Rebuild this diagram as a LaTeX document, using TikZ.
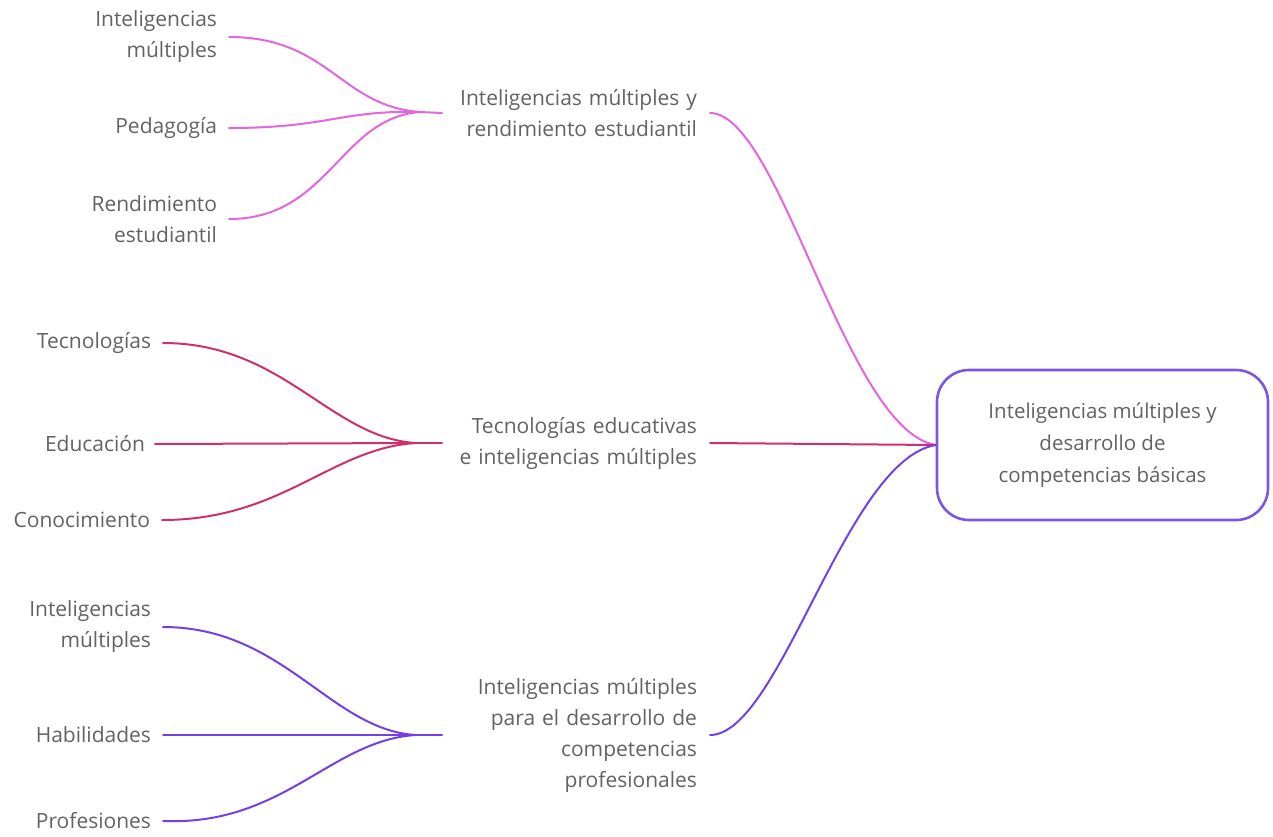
\documentclass[tikz,border=0pt]{standalone}
\usepackage{fontspec}
\setmainfont{Open Sans}
\definecolor{txt}{HTML}{626262}
\definecolor{cpink}{HTML}{E266DC}
\definecolor{ccrim}{HTML}{CF2F6E}
\definecolor{cviol}{HTML}{7440E6}
\definecolor{cbox}{HTML}{7E55E0}
\begin{document}
\begin{tikzpicture}[x=1pt,y=-1pt,
  lbl/.style={text=txt,font=\fontsize{21}{31}\selectfont,inner sep=0pt,outer xsep=12pt,outer ysep=0pt,align=right,anchor=east},
  mid/.style={text=txt,font=\fontsize{21}{31}\selectfont,inner sep=0pt,outer sep=0pt,align=right,anchor=east,text width=255pt},
  conn/.style={line width=2pt,line cap=round}]
\useasboundingbox (0,0) rectangle (1273,836);
% main
\node[draw=cbox,line width=2.6pt,rounded corners=32pt,minimum width=331pt,minimum height=150pt,inner sep=0pt,
  text=txt,font=\fontsize{20.5}{32}\selectfont,align=center] (main) at (1102.5,445)
  {Inteligencias múltiples y\\desarrollo de\\competencias básicas};
% top group
\node[lbl] (a1) at (229,37) {Inteligencias\\múltiples};
\node[lbl] (a2) at (229,128) {Pedagogía};
\node[lbl] (a3) at (229,219) {Rendimiento\\estudiantil};
\coordinate (ja) at (420,112);
\node[mid] (ma) at (697,113) {Inteligencias múltiples y\\rendimiento estudiantil};
% middle group
\node[lbl] (b1) at (163,343) {Tecnologías};
\node[lbl,outer xsep=10pt] (b2) at (155,444) {Educación};
\node[lbl] (b3) at (162,520) {Conocimiento};
\coordinate (jb) at (415,443);
\node[mid] (mb) at (697,443) {Tecnologías educativas\\e inteligencias múltiples};
% bottom group
\node[lbl] (c1) at (163,627) {Inteligencias\\múltiples};
\node[lbl] (c2) at (163,735) {Habilidades};
\node[lbl] (c3) at (163,821) {Profesiones};
\coordinate (jc) at (415,735);
\node[mid] (mc) at (697,735) {Inteligencias múltiples\\para el desarrollo de\\competencias\\profesionales};
% connectors top
\begin{scope}[conn,draw=cpink]
\draw (a1.east) .. controls +(100,0) and +(-80,-6) .. (ja);
\draw (a2.east) .. controls +(100,0) and +(-80,-2) .. (ja);
\draw (a3.east) .. controls +(100,0) and +(-80,6) .. (ja);
\draw (ja) -- (ma.west);
\draw ([xshift=13pt]ma.east) .. controls +(70,0) and +(-90,-15) .. (main.west);
\end{scope}
\begin{scope}[conn,draw=ccrim]
\draw (b1.east) .. controls +(120,0) and +(-85,-6) .. (jb);
\draw (b2.east) -- (jb);
\draw (b3.east) .. controls +(120,0) and +(-85,6) .. (jb);
\draw (jb) -- (mb.west);
\draw ([xshift=13pt]mb.east) -- (main.west);
\end{scope}
\begin{scope}[conn,draw=cviol]
\draw (c1.east) .. controls +(120,0) and +(-85,-6) .. (jc);
\draw (c2.east) -- (jc);
\draw (c3.east) .. controls +(120,5) and +(-85,6) .. (jc);
\draw (jc) -- (mc.west);
\draw ([xshift=13pt]mc.east) .. controls +(70,0) and +(-90,15) .. (main.west);
\end{scope}
\end{tikzpicture}
\end{document}
